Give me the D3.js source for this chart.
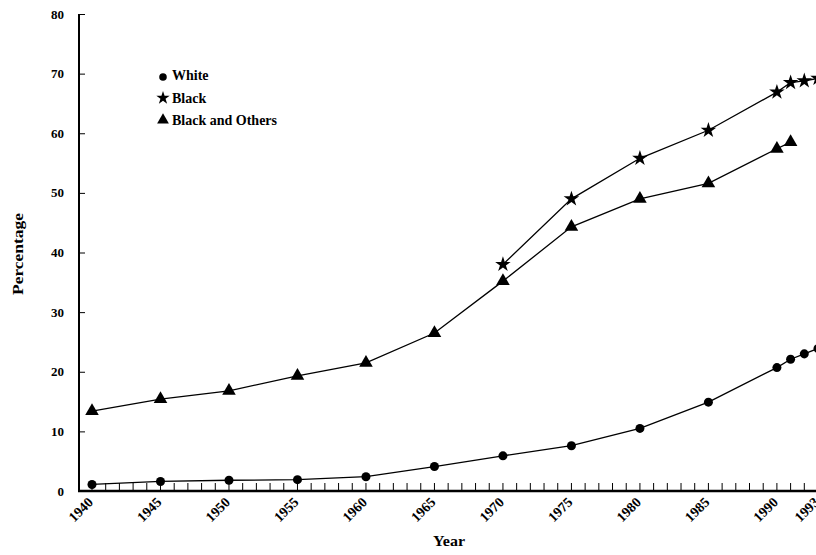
<!DOCTYPE html>
<html><head><meta charset="utf-8">
<script src="https://cdn.jsdelivr.net/npm/d3@7"></script>
<style>body{margin:0;background:#fff}text{font-family:"Liberation Serif","Times New Roman",serif;font-weight:bold}</style>
</head><body><svg id="c" width="816" height="555"></svg>
<script>
const whiteYears=[1940,1945,1950,1955,1960,1965,1970,1975,1980,1985,1990,1991,1992,1993];
const whiteVals=[1.1,1.6,1.8,1.9,2.4,4.1,5.9,7.6,10.5,14.9,20.7,22.1,23.0,23.9];
const blackYears=[1970,1975,1980,1985,1990,1991,1992,1993];
const blackVals=[38.0,49.0,55.8,60.5,66.9,68.5,68.8,69.2];
const otherYears=[1940,1945,1950,1955,1960,1965,1970,1975,1980,1985,1990,1991];
const otherVals=[13.4,15.4,16.8,19.3,21.5,26.5,35.2,44.3,49.0,51.6,57.4,58.5];
const xTickLabels=[1940,1945,1950,1955,1960,1965,1970,1975,1980,1985,1990,1993];
const yTicks=[0,10,20,30,40,50,60,70,80];

const svg=d3.select("#c");
const x=d3.scaleLinear().domain([1940,1993]).range([92,818]);
const y=d3.scaleLinear().domain([0,80]).range([491,14]);

// axes lines
svg.append("line").attr("x1",79).attr("x2",79).attr("y1",14).attr("y2",492).attr("stroke","#000").attr("stroke-width",2);
svg.append("line").attr("x1",78).attr("x2",816).attr("y1",491).attr("y2",491).attr("stroke","#000").attr("stroke-width",2.5);

// y ticks
const yax=svg.append("g").attr("transform","translate(79,0)").call(d3.axisRight(y).tickValues(yTicks).tickSize(6).tickFormat(""));
yax.select(".domain").remove();
yax.selectAll("line").attr("stroke","#000");
svg.append("g").selectAll("text").data(yTicks).join("text")
 .attr("x",64).attr("y",d=>y(d)+4.5).attr("text-anchor","end").attr("font-size",13).text(d=>d);

// x minor ticks every year
const years=d3.range(1940,1994);
svg.append("g").selectAll("line").data(years).join("line")
 .attr("x1",d=>x(d)).attr("x2",d=>x(d)).attr("y1",491).attr("y2",483).attr("stroke","#000").attr("stroke-width",1);
svg.append("g").selectAll("text").data(xTickLabels).join("text")
 .attr("text-anchor","end").attr("font-size",14)
 .attr("transform",d=>`translate(${x(d)+2},${503}) rotate(-45)`).text(d=>d);

// axis titles
svg.append("text").attr("x",449).attr("y",546).attr("text-anchor","middle").attr("font-size",14)
 .attr("textLength",32).attr("lengthAdjust","spacingAndGlyphs").text("Year");
svg.append("text").attr("transform","translate(23,254) rotate(-90)").attr("text-anchor","middle").attr("font-size",15)
 .attr("textLength",82).attr("lengthAdjust","spacingAndGlyphs").text("Percentage");

const line=d3.line().x(d=>x(d[0])).y(d=>y(d[1]));
function series(yrs,vals,sym,size){
  const data=yrs.map((v,i)=>[v,vals[i]]);
  svg.append("path").attr("d",line(data)).attr("fill","none").attr("stroke","#000").attr("stroke-width",1.3);
  svg.append("g").selectAll("path").data(data).join("path")
   .attr("d",d3.symbol().type(sym).size(size)).attr("transform",d=>`translate(${x(d[0])},${y(d[1])})`).attr("fill","#000");
}
series(whiteYears,whiteVals,d3.symbolCircle,64);
series(otherYears,otherVals,d3.symbolTriangle,80);
series(blackYears,blackVals,d3.symbolStar,75);

// legend
const leg=[["White",d3.symbolCircle,45,77,80],["Black",d3.symbolStar,55,98,103],["Black and Others",d3.symbolTriangle,60,120,125]];
leg.forEach(l=>{
  svg.append("path").attr("d",d3.symbol().type(l[1]).size(l[2])()).attr("transform",`translate(163,${l[3]})`).attr("fill","#000");
  svg.append("text").attr("x",172).attr("y",l[4]).attr("font-size",14).text(l[0]);
});
</script></body></html>
